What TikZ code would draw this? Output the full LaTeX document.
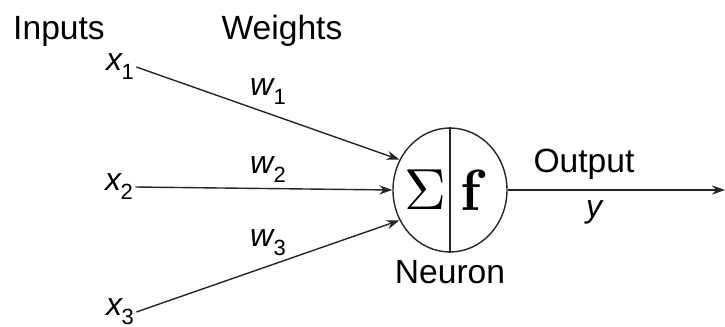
\documentclass[tikz,border=0pt]{standalone}
\usepackage[no-math]{fontspec}
\setmainfont{Liberation Sans}
\usepackage{graphicx}
\usetikzlibrary{arrows.meta,shapes.geometric}
\newcommand{\vsub}[2]{\textit{#1}\kern-0.04em\raisebox{-0.28em}{\fontsize{11}{11}\selectfont #2}}
\begin{document}
\begin{tikzpicture}[x=0.5pt,y=-0.5pt,
  lbl/.style={inner sep=0pt, font=\fontsize{16.8}{19}\selectfont},
  var/.style={inner sep=1pt, font=\fontsize{16}{19}\selectfont},
  arr/.style={-{Stealth[length=6.5pt,width=4.6pt]}, line width=0.7pt, black!85},
  neuron/.style={draw, ellipse, minimum width=57pt, minimum height=62pt, inner sep=0pt, line width=0.7pt, black!85},
  ]
\useasboundingbox (0,0) rectangle (725,327);
% headings
\node[lbl] (inputs) at (59,31) {Inputs};
\node[lbl] (weights) at (282,31) {Weights};
% inputs
\node[var] (x1) at (120,67) {\vsub{x}{1}};
\node[var] (x2) at (119,187) {\vsub{x}{2}};
\node[var] (x3) at (120,312) {\vsub{x}{3}};
% weights
\node[var] (w1) at (268,92) {\vsub{w}{1}};
\node[var] (w2) at (268,170) {\vsub{w}{2}};
\node[var] (w3) at (268,243) {\vsub{w}{3}};
% neuron
\node[neuron] (n) at (450,190) {};
\draw[line width=0.7pt, black!85] (n.north) -- (n.south);
\node[inner sep=0pt] (sig) at (425,190) {\scalebox{2.9}{$\Sigma$}};
\node[inner sep=0pt] (f) at (474,190) {\scalebox{2.9}{$\mathbf{f}$}};
\node[lbl] (neur) at (450,272) {Neuron};
% output
\node[lbl] (out) at (584,164) {Output};
\node[var] (y) at (595,212) {\textit{y}};
\coordinate (end) at (725,190);
% connectors
\draw[arr] (x1.east) -- (n.149);
\draw[arr] (x2.east) -- (n.west);
\draw[arr] (x3.east) -- (n.211);
\draw[arr] (n.east) -- (end);
\end{tikzpicture}
\end{document}
